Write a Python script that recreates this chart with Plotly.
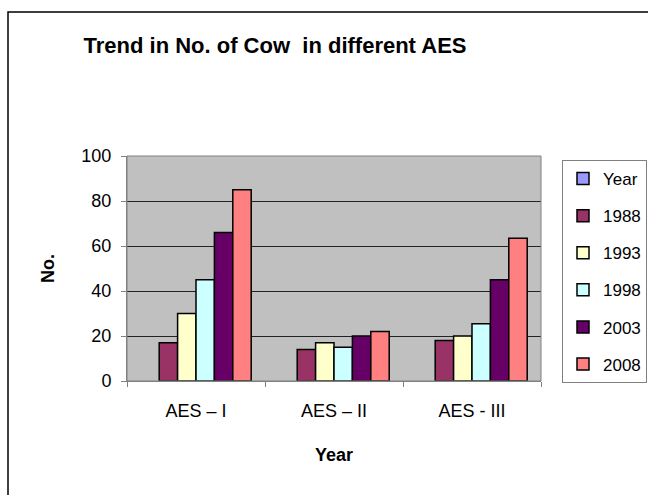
import plotly.graph_objects as go

categories = ["AES – I", "AES – II", "AES - III"]
series_names = ["Year", "1988", "1993", "1998", "2003", "2008"]
values_year = [None, None, None]
values_1988 = [17, 14, 18]
values_1993 = [30, 17, 20]
values_1998 = [45, 15, 25.5]
values_2003 = [66, 20, 45]
values_2008 = [85, 22, 63.5]
y_ticks = [0, 20, 40, 60, 80, 100]

colors = ["#9999FF", "#993366", "#FFFFCC", "#CCFFFF", "#660066", "#FF8080"]
all_values = [values_year, values_1988, values_1993, values_1998, values_2003, values_2008]

W, H = 648, 495
L, R, T, B = 127, 107, 156, 114
pw, ph = W - L - R, H - T - B

def px_to_paper_x(px):
    return (px - L) / pw

def px_to_paper_y(py):
    return (H - B - py) / ph

fig = go.Figure()
for i, (name, vals) in enumerate(zip(series_names, all_values)):
    fig.add_trace(go.Bar(
        x=categories, y=vals, name=name,
        marker=dict(color=colors[i], line=dict(color="#000000", width=1.5)),
        legendgroup=name,
    ))

font_family = "Liberation Sans, Arial, sans-serif"

fig.update_layout(
    width=W, height=H,
    margin=dict(l=L, r=R, t=T, b=B, autoexpand=False),
    paper_bgcolor="white",
    plot_bgcolor="#C0C0C0",
    barmode="group",
    bargap=0.2,
    bargroupgap=0,
    font=dict(family=font_family, size=18, color="black"),
    title=dict(
        text="<b>Trend in No. of Cow  in different AES</b>",
        x=275 / W, xref="container", xanchor="center",
        y=1 - 45 / H, yref="container", yanchor="middle",
        font=dict(size=22, family=font_family, color="black"),
    ),
    legend=dict(
        x=px_to_paper_x(562), xanchor="left",
        y=px_to_paper_y(160), yanchor="top",
        bgcolor="white", bordercolor="#808080", borderwidth=1,
        font=dict(size=17, family=font_family),
        tracegroupgap=12,
        itemwidth=30,
    ),
    xaxis=dict(
        showline=True, linecolor="#808080", linewidth=1,
        ticks="outside", tickson="boundaries", ticklen=5, tickcolor="#808080",
        showgrid=False,
        ticklabelstandoff=13,
        title=dict(text="<b>Year</b>", standoff=28, font=dict(size=18)),
        tickfont=dict(size=18),
        automargin=False,
    ),
    yaxis=dict(
        range=[0, 100], tickvals=y_ticks,
        showline=True, linecolor="#808080", linewidth=1,
        ticks="outside", ticklen=5, tickcolor="#808080",
        showgrid=True, gridcolor="#222222", gridwidth=1,
        zeroline=False,
        ticklabelstandoff=6,
        title=dict(text="<b>No.</b>", standoff=22, font=dict(size=18)),
        tickfont=dict(size=18),
        automargin=False,
    ),
    shapes=[
        dict(type="rect", xref="paper", yref="paper", x0=0, x1=1, y0=0, y1=1,
             line=dict(color="#808080", width=1), layer="above"),
        dict(type="rect", xref="paper", yref="paper",
             x0=px_to_paper_x(8), x1=px_to_paper_x(660),
             y0=px_to_paper_y(510), y1=px_to_paper_y(12),
             line=dict(color="black", width=1.5), layer="above"),
    ],
)

fig.write_html("out.html")
